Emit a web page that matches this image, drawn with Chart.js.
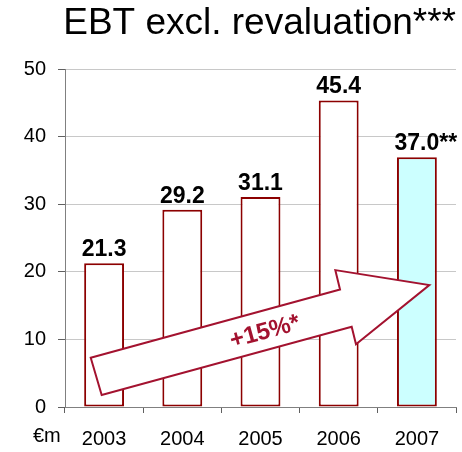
<!DOCTYPE html>
<html>
<head>
<meta charset="utf-8">
<script src="https://cdn.jsdelivr.net/npm/chart.js@4/dist/chart.umd.min.js"></script>
<style>
  html, body { margin: 0; padding: 0; background: #ffffff; }
  #wrap { width: 462px; height: 452px; }
</style>
</head>
<body>
<div id="wrap"><canvas id="ebtChart" width="462" height="452"></canvas></div>
<script>
// Chart data
const categories = ['2003', '2004', '2005', '2006', '2007'];
const ebtValues = [21.3, 29.2, 31.1, 45.4, 37.0];
const valueLabels = ['21.3', '29.2', '31.1', '45.4', '37.0'];
const labelNotes = ['', '', '', '', '**'];
const barFills = ['#ffffff', '#ffffff', '#ffffff', '#ffffff', '#ccffff'];
const yTickMin = 0;
const yTickMax = 50;
const yTickStep = 10;

const FONT = "'Liberation Sans', Arial, sans-serif";
const BAR_RED = '#8c0000';
const ARROW_RED = '#a3122f';

// Growth arrow, in (category index, value) units so it follows the scales
const arrowShape = [
    [-0.031, 1.78],   // tail bottom
    [-0.171, 7.29],   // tail top
    [3.017, 17.41],   // shaft top at head
    [2.957, 20.27],   // head top
    [4.159, 18.05],   // tip
    [3.221, 9.28],    // head bottom
    [3.166, 11.88]    // shaft bottom at head
];
const arrowText = { main: '+15%', note: '*', at: [2.058, 11.09] };

const growthArrow = {
    id: 'growthArrow',
    afterDatasetsDraw(chart) {
        const { ctx, scales: { x, y } } = chart;
        const pts = arrowShape.map(p => [x.getPixelForValue(p[0]), y.getPixelForValue(p[1])]);

        ctx.save();
        ctx.beginPath();
        pts.forEach((p, i) => i ? ctx.lineTo(p[0], p[1]) : ctx.moveTo(p[0], p[1]));
        ctx.closePath();
        ctx.fillStyle = '#ffffff';
        ctx.fill();
        ctx.lineWidth = 2;
        ctx.lineJoin = 'miter';
        ctx.strokeStyle = ARROW_RED;
        ctx.stroke();

        // text follows the shaft angle
        const angle = Math.atan2(pts[2][1] - pts[1][1], pts[2][0] - pts[1][0]);
        const cx = x.getPixelForValue(arrowText.at[0]);
        const cy = y.getPixelForValue(arrowText.at[1]);
        ctx.translate(cx, cy);
        ctx.rotate(angle);
        ctx.fillStyle = ARROW_RED;
        ctx.textBaseline = 'middle';
        ctx.textAlign = 'left';
        ctx.font = 'bold 24px ' + FONT;
        const mainW = ctx.measureText(arrowText.main).width;
        const noteW = ctx.measureText(arrowText.note).width;
        const startX = -(mainW + noteW) / 2;
        ctx.fillText(arrowText.main, startX, 0);
        ctx.fillText(arrowText.note, startX + mainW, 0);
        ctx.restore();
    }
};

const barLabels = {
    id: 'barLabels',
    afterDatasetsDraw(chart) {
        const { ctx } = chart;
        const meta = chart.getDatasetMeta(0);
        ctx.save();
        ctx.fillStyle = '#000000';
        ctx.textBaseline = 'alphabetic';
        ctx.font = 'bold 23px ' + FONT;
        meta.data.forEach((bar, i) => {
            ctx.textAlign = 'center';
            const base = bar.y - 7;
            ctx.fillText(valueLabels[i], bar.x, base);
            if (labelNotes[i]) {
                const w = ctx.measureText(valueLabels[i]).width;
                ctx.textAlign = 'left';
                ctx.fillText(labelNotes[i], bar.x + w / 2, base);
            }
        });
        // unit label left of the category labels
        ctx.font = '20px ' + FONT;
        ctx.textAlign = 'left';
        ctx.fillText('€m', 33, 442);
        ctx.restore();
    }
};

new Chart(document.getElementById('ebtChart'), {
    type: 'bar',
    data: {
        labels: categories,
        datasets: [{
            data: ebtValues,
            backgroundColor: barFills,
            borderColor: BAR_RED,
            borderWidth: 2,
            borderSkipped: false,
            barPercentage: 0.51,
            categoryPercentage: 1.0
        }]
    },
    options: {
        responsive: false,
        animation: false,
        devicePixelRatio: 1,
        layout: { padding: { top: 0, right: 6, bottom: 0, left: 0 } },
        plugins: {
            legend: { display: false },
            tooltip: { enabled: false },
            title: {
                display: true,
                text: 'EBT excl. revaluation***',
                align: 'end',
                color: '#000000',
                font: { family: FONT, size: 37, weight: 'normal' },
                padding: { top: 2, bottom: 23 }
            }
        },
        scales: {
            x: {
                grid: {
                    drawOnChartArea: false,
                    tickLength: 6,
                    tickColor: '#606060'
                },
                border: { color: '#808080', width: 1 },
                ticks: {
                    color: '#000000',
                    padding: 14,
                    font: { family: FONT, size: 20 }
                },
                afterFit(scale) { scale.height = 45; }
            },
            y: {
                min: yTickMin,
                max: yTickMax,
                grid: {
                    color: '#c8c8c8',
                    tickLength: 7,
                    tickColor: '#606060'
                },
                border: { color: '#808080', width: 1 },
                ticks: {
                    stepSize: yTickStep,
                    color: '#000000',
                    padding: 12,
                    font: { family: FONT, size: 20 }
                },
                afterFit(scale) { scale.width = 65; }
            }
        }
    },
    plugins: [growthArrow, barLabels]
});
</script>
</body>
</html>
